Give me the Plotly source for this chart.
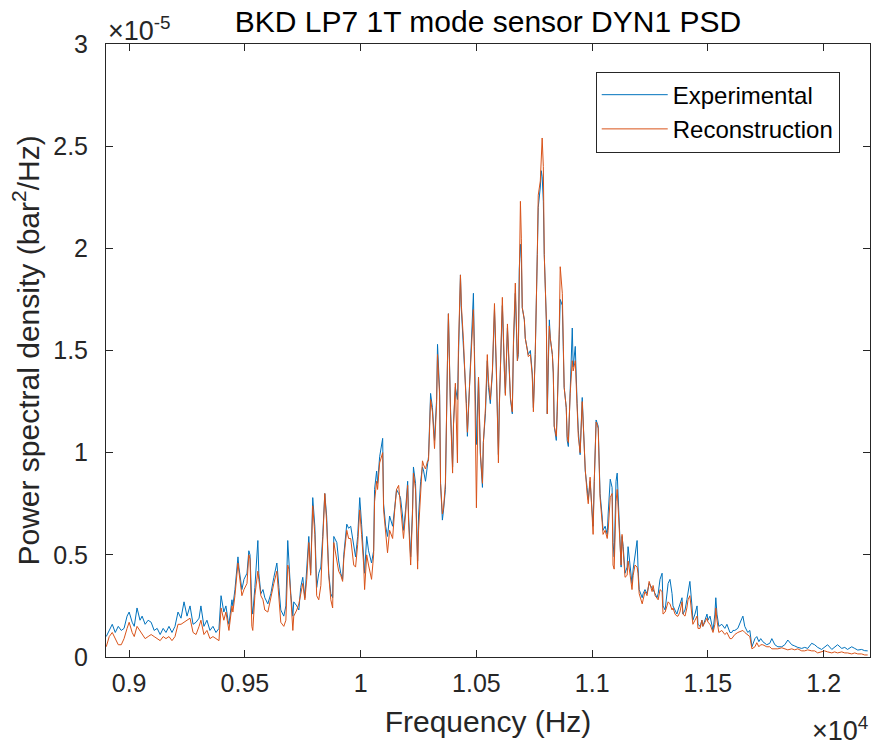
import plotly.graph_objects as go

# Frequency bins (Hz)
freq_hz = [
    8901, 8914, 8927, 8940, 8953, 8966, 8978, 8991, 9000, 9013, 9022, 9034, 9047, 9056, 9069, 9082,
    9095, 9108, 9121, 9134, 9147, 9159, 9172, 9185, 9198, 9211, 9224, 9237, 9250, 9263, 9276, 9289,
    9302, 9310, 9323, 9336, 9349, 9362, 9375, 9388, 9397, 9409, 9418, 9427, 9431, 9444, 9448, 9457,
    9470, 9474, 9487, 9496, 9509, 9517, 9522, 9530, 9534, 9543, 9556, 9560, 9569, 9578, 9586, 9599,
    9612, 9625, 9638, 9647, 9655, 9668, 9677, 9685, 9690, 9698, 9707, 9711, 9724, 9733, 9741, 9750,
    9759, 9767, 9776, 9784, 9793, 9802, 9810, 9819, 9828, 9836, 9845, 9853, 9862, 9871, 9879, 9884,
    9897, 9905, 9914, 9922, 9927, 9940, 9948, 9957, 9970, 9978, 9987, 9996, 10004, 10013, 10017, 10026,
    10034, 10047, 10056, 10060, 10069, 10073, 10082, 10095, 10099, 10108, 10116, 10125, 10138, 10147, 10155, 10164,
    10172, 10181, 10185, 10194, 10203, 10207, 10216, 10224, 10228, 10237, 10246, 10250, 10259, 10267, 10272, 10280,
    10289, 10293, 10302, 10310, 10319, 10328, 10332, 10341, 10345, 10353, 10358, 10366, 10375, 10379, 10388, 10397,
    10401, 10409, 10418, 10422, 10431, 10435, 10444, 10448, 10457, 10461, 10470, 10478, 10487, 10491, 10500, 10509,
    10517, 10526, 10530, 10539, 10547, 10552, 10560, 10569, 10573, 10578, 10586, 10591, 10595, 10599, 10608, 10612,
    10621, 10625, 10634, 10638, 10647, 10655, 10660, 10668, 10677, 10681, 10685, 10690, 10694, 10698, 10707, 10711,
    10720, 10724, 10733, 10741, 10746, 10754, 10763, 10767, 10776, 10780, 10784, 10789, 10793, 10802, 10806, 10810,
    10815, 10819, 10828, 10832, 10836, 10845, 10849, 10858, 10862, 10871, 10875, 10879, 10888, 10892, 10897, 10905,
    10914, 10918, 10927, 10935, 10940, 10948, 10957, 10961, 10970, 10978, 10983, 10991, 11000, 11004, 11009, 11017,
    11026, 11030, 11034, 11043, 11047, 11056, 11065, 11069, 11078, 11086, 11090, 11095, 11103, 11108, 11116, 11125,
    11129, 11134, 11142, 11151, 11155, 11164, 11172, 11177, 11185, 11194, 11198, 11203, 11216, 11220, 11228, 11237,
    11246, 11259, 11263, 11272, 11280, 11285, 11293, 11302, 11306, 11315, 11323, 11328, 11336, 11345, 11349, 11358,
    11366, 11371, 11379, 11388, 11392, 11401, 11409, 11414, 11422, 11431, 11435, 11444, 11453, 11457, 11466, 11474,
    11478, 11496, 11500, 11509, 11517, 11522, 11530, 11534, 11539, 11547, 11560, 11565, 11573, 11582, 11586, 11595,
    11603, 11608, 11616, 11629, 11647, 11651, 11659, 11672, 11681, 11690, 11703, 11711, 11720, 11728, 11737, 11754,
    11767, 11776, 11789, 11802, 11819, 11832, 11845, 11862, 11875, 11888, 11905, 11918, 11931, 11948, 11961, 11974,
    11991, 12004, 12017, 12035, 12047, 12060, 12078, 12091, 12103, 12121, 12134, 12147, 12164, 12177, 12190,
]

# PSD, in units of 1e-5 bar^2/Hz
psd_experimental = [
    0.10, 0.13, 0.16, 0.12, 0.15, 0.13, 0.14, 0.20, 0.22, 0.17, 0.15, 0.24, 0.18, 0.20, 0.16, 0.18,
    0.17, 0.13, 0.14, 0.11, 0.14, 0.12, 0.15, 0.12, 0.15, 0.22, 0.19, 0.27, 0.20, 0.25, 0.16, 0.17,
    0.19, 0.25, 0.15, 0.18, 0.13, 0.15, 0.12, 0.14, 0.30, 0.22, 0.25, 0.18, 0.16, 0.28, 0.25, 0.33,
    0.49, 0.44, 0.33, 0.38, 0.41, 0.52, 0.50, 0.25, 0.21, 0.34, 0.57, 0.41, 0.31, 0.33, 0.29, 0.26,
    0.31, 0.39, 0.46, 0.34, 0.23, 0.20, 0.25, 0.57, 0.46, 0.31, 0.20, 0.27, 0.25, 0.23, 0.34, 0.39,
    0.29, 0.41, 0.59, 0.41, 0.78, 0.64, 0.34, 0.41, 0.44, 0.59, 0.80, 0.69, 0.41, 0.31, 0.29, 0.59,
    0.56, 0.47, 0.41, 0.38, 0.50, 0.65, 0.63, 0.64, 0.54, 0.49, 0.59, 0.78, 0.65, 0.51, 0.41, 0.59,
    0.52, 0.46, 0.52, 0.82, 0.91, 0.85, 0.98, 1.07, 0.75, 0.64, 0.59, 0.69, 0.64, 0.73, 0.82, 0.80,
    0.78, 0.69, 0.62, 0.72, 0.86, 0.69, 0.49, 0.72, 0.93, 0.85, 0.47, 0.69, 0.86, 0.93, 0.91, 0.86,
    0.96, 0.98, 1.29, 1.22, 1.06, 1.26, 1.53, 1.30, 0.85, 0.67, 0.72, 0.82, 1.45, 1.68, 1.22, 0.93,
    1.14, 1.32, 1.26, 1.50, 1.87, 1.70, 1.53, 1.42, 1.24, 1.08, 1.34, 1.50, 1.78, 1.52, 1.04, 1.37,
    0.99, 0.83, 1.05, 1.19, 1.45, 1.32, 1.24, 1.39, 1.58, 1.70, 1.40, 1.19, 0.99, 1.24, 1.61, 1.72,
    1.39, 1.29, 1.61, 1.48, 1.26, 1.19, 1.53, 1.78, 1.45, 1.48, 1.90, 2.02, 1.95, 1.71, 1.65, 1.56,
    1.50, 1.48, 1.50, 1.39, 1.22, 1.48, 1.97, 2.20, 2.30, 2.38, 2.35, 2.23, 1.97, 1.65, 1.19, 1.48,
    1.65, 1.56, 1.48, 1.39, 1.13, 1.06, 1.19, 1.58, 1.75, 1.72, 1.52, 1.32, 1.22, 1.06, 1.03, 1.29,
    1.61, 1.42, 1.52, 1.24, 1.11, 0.99, 1.27, 1.16, 0.91, 0.83, 0.77, 0.86, 0.70, 0.64, 0.86, 1.16,
    1.13, 0.96, 0.80, 0.69, 0.62, 0.64, 0.60, 0.70, 0.87, 0.83, 0.56, 0.49, 0.86, 0.90, 0.67, 0.44,
    0.59, 0.54, 0.41, 0.44, 0.54, 0.44, 0.36, 0.43, 0.51, 0.57, 0.44, 0.33, 0.29, 0.31, 0.33, 0.31,
    0.36, 0.34, 0.33, 0.31, 0.29, 0.31, 0.38, 0.41, 0.25, 0.23, 0.31, 0.36, 0.38, 0.31, 0.25, 0.23,
    0.21, 0.23, 0.26, 0.29, 0.21, 0.23, 0.28, 0.31, 0.37, 0.25, 0.18, 0.21, 0.25, 0.16, 0.15, 0.18,
    0.15, 0.21, 0.18, 0.20, 0.15, 0.13, 0.21, 0.29, 0.21, 0.15, 0.16, 0.15, 0.14, 0.16, 0.15, 0.12,
    0.12, 0.13, 0.13, 0.14, 0.19, 0.20, 0.15, 0.12, 0.13, 0.05, 0.09, 0.10, 0.075, 0.09, 0.075, 0.06,
    0.067, 0.09, 0.06, 0.05, 0.05, 0.06, 0.083, 0.06, 0.054, 0.047, 0.042, 0.047, 0.042, 0.067, 0.06, 0.047,
    0.037, 0.047, 0.06, 0.037, 0.047, 0.06, 0.042, 0.047, 0.037, 0.05, 0.042, 0.034, 0.037, 0.031, 0.03,
]

psd_reconstruction = [
    0.05, 0.10, 0.12, 0.09, 0.06, 0.06, 0.09, 0.14, 0.17, 0.12, 0.10, 0.15, 0.13, 0.11, 0.09, 0.10,
    0.11, 0.10, 0.09, 0.08, 0.10, 0.09, 0.10, 0.08, 0.10, 0.16, 0.16, 0.17, 0.18, 0.19, 0.12, 0.11,
    0.15, 0.18, 0.11, 0.13, 0.09, 0.10, 0.09, 0.08, 0.24, 0.18, 0.22, 0.15, 0.13, 0.25, 0.22, 0.30,
    0.46, 0.42, 0.30, 0.33, 0.36, 0.50, 0.48, 0.15, 0.13, 0.30, 0.42, 0.38, 0.30, 0.28, 0.23, 0.22,
    0.30, 0.36, 0.42, 0.30, 0.17, 0.15, 0.18, 0.45, 0.43, 0.30, 0.13, 0.20, 0.23, 0.26, 0.30, 0.36,
    0.28, 0.38, 0.56, 0.40, 0.74, 0.60, 0.30, 0.28, 0.35, 0.56, 0.80, 0.66, 0.40, 0.28, 0.24, 0.56,
    0.48, 0.42, 0.40, 0.37, 0.48, 0.62, 0.58, 0.58, 0.45, 0.44, 0.55, 0.72, 0.60, 0.45, 0.33, 0.50,
    0.45, 0.38, 0.50, 0.76, 0.86, 0.82, 0.95, 1.00, 0.72, 0.60, 0.51, 0.62, 0.58, 0.72, 0.82, 0.84,
    0.75, 0.66, 0.58, 0.70, 0.84, 0.66, 0.45, 0.70, 0.90, 0.82, 0.43, 0.62, 0.84, 0.96, 0.94, 0.92,
    0.96, 0.96, 1.26, 1.20, 1.02, 1.24, 1.48, 1.28, 0.85, 0.70, 0.73, 0.85, 1.45, 1.68, 1.20, 0.90,
    1.14, 1.34, 0.95, 1.50, 1.87, 1.72, 1.55, 1.45, 1.25, 1.10, 1.32, 1.52, 1.70, 1.50, 0.73, 1.37,
    1.00, 0.85, 1.05, 1.22, 1.48, 1.35, 1.26, 1.40, 1.60, 1.73, 1.42, 1.17, 0.95, 1.22, 1.63, 1.76,
    1.40, 1.28, 1.63, 1.50, 1.27, 1.20, 1.55, 1.83, 1.45, 1.50, 1.97, 2.23, 2.05, 1.71, 1.65, 1.56,
    1.50, 1.47, 1.48, 1.38, 1.20, 1.48, 1.97, 2.26, 2.33, 2.43, 2.54, 2.40, 1.97, 1.65, 1.19, 1.45,
    1.62, 1.56, 1.48, 1.39, 1.13, 1.08, 1.20, 1.62, 1.91, 1.78, 1.52, 1.32, 1.22, 1.08, 1.05, 1.29,
    1.45, 1.40, 1.45, 1.22, 1.08, 1.00, 1.25, 1.15, 0.92, 0.80, 0.75, 0.88, 0.70, 0.60, 0.86, 1.15,
    1.12, 0.96, 0.78, 0.66, 0.60, 0.62, 0.58, 0.62, 0.78, 0.80, 0.45, 0.43, 0.76, 0.82, 0.62, 0.45,
    0.60, 0.50, 0.39, 0.40, 0.47, 0.40, 0.33, 0.40, 0.45, 0.44, 0.41, 0.31, 0.26, 0.28, 0.32, 0.30,
    0.37, 0.32, 0.35, 0.30, 0.29, 0.28, 0.33, 0.32, 0.21, 0.22, 0.25, 0.27, 0.26, 0.23, 0.24, 0.21,
    0.20, 0.20, 0.22, 0.27, 0.21, 0.20, 0.24, 0.28, 0.30, 0.21, 0.16, 0.18, 0.20, 0.14, 0.14, 0.18,
    0.15, 0.19, 0.17, 0.16, 0.13, 0.12, 0.16, 0.24, 0.18, 0.12, 0.13, 0.12, 0.11, 0.12, 0.11, 0.09,
    0.09, 0.10, 0.11, 0.12, 0.13, 0.13, 0.12, 0.11, 0.10, 0.04, 0.05, 0.07, 0.05, 0.06, 0.06, 0.05,
    0.05, 0.04, 0.04, 0.04, 0.045, 0.04, 0.035, 0.04, 0.035, 0.04, 0.03, 0.03, 0.035, 0.03, 0.03, 0.02,
    0.025, 0.03, 0.025, 0.02, 0.025, 0.02, 0.025, 0.02, 0.02, 0.015, 0.02, 0.015, 0.015, 0.01, 0.01,
]

x_tick_vals = [0.9, 0.95, 1.0, 1.05, 1.1, 1.15, 1.2]
x_tick_text = ["0.9", "0.95", "1", "1.05", "1.1", "1.15", "1.2"]
y_tick_vals = [0, 0.5, 1, 1.5, 2, 2.5, 3]
y_tick_text = ["0", "0.5", "1", "1.5", "2", "2.5", "3"]

x_scaled = [f / 1e4 for f in freq_hz]

FONT = "Liberation Sans, Arial, sans-serif"
AX = "#262626"

fig = go.Figure()
fig.add_trace(go.Scatter(x=x_scaled, y=psd_experimental, mode="lines", name="Experimental",
                         line=dict(color="#0072BD", width=1)))
fig.add_trace(go.Scatter(x=x_scaled, y=psd_reconstruction, mode="lines", name="Reconstruction",
                         line=dict(color="#D95319", width=1)))

axis_common = dict(showline=True, linecolor=AX, linewidth=1, mirror="ticks", ticks="inside",
                   ticklen=7, tickcolor=AX, showgrid=False, zeroline=False,
                   tickfont=dict(family=FONT, size=25, color=AX))

fig.update_xaxes(range=[0.89, 1.22], tickvals=x_tick_vals, ticktext=x_tick_text,
                 ticklabelstandoff=4,
                 title=dict(text="Frequency (Hz)", font=dict(family=FONT, size=30, color=AX), standoff=14),
                 **axis_common)
fig.update_yaxes(range=[0, 3], tickvals=y_tick_vals, ticktext=y_tick_text,
                 ticklabelstandoff=12,
                 **axis_common)

fig.update_layout(
    width=872, height=746,
    margin=dict(l=106, r=2, t=44, b=89),
    paper_bgcolor="white", plot_bgcolor="white",
    title=dict(text="BKD LP7 1T mode sensor DYN1 PSD", x=0.5, xref="paper", xanchor="center",
               y=1 - 21 / 746, yanchor="middle", yref="container",
               font=dict(family=FONT, size=30, color="black")),
    showlegend=True,
    legend=dict(x=0.641, y=0.955, xanchor="left", yanchor="top", bgcolor="white",
                bordercolor=AX, borderwidth=1, font=dict(family=FONT, size=24, color="black"),
                itemwidth=66, tracegroupgap=0),
    annotations=[
        dict(text="Power spectral density (bar<sup>2</sup>/Hz)", textangle=-90,
             xref="paper", yref="paper", x=0.0, y=0.5, xanchor="center", yanchor="middle",
             xshift=-80, showarrow=False, font=dict(family=FONT, size=30, color=AX)),
        dict(text="×10<sup>-5</sup>", xref="paper", yref="paper", x=0.0, y=1.0, xanchor="left",
             yanchor="bottom", showarrow=False, font=dict(family=FONT, size=27, color=AX), yshift=-4),
        dict(text="×10<sup>4</sup>", xref="paper", yref="paper", x=1.0, y=0, xanchor="right",
             yanchor="top", showarrow=False, font=dict(family=FONT, size=27, color=AX), yshift=-53),
    ],
)

fig.write_html("out.html")
